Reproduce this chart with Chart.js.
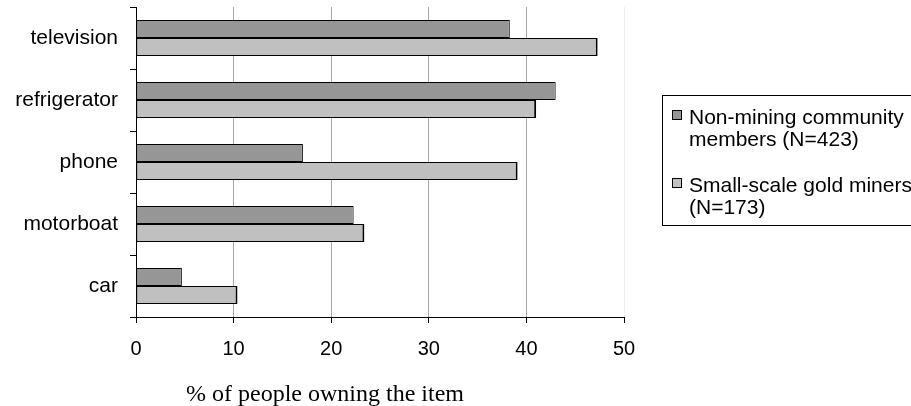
<!DOCTYPE html>
<html>
<head>
<meta charset="utf-8">
<script src="https://cdn.jsdelivr.net/npm/chart.js@4/dist/chart.umd.min.js"></script>
<style>
  html, body { margin: 0; padding: 0; background: #fff; overflow: hidden; }
  #wrap { position: relative; width: 911px; height: 406px; }
  #chart { position: absolute; left: 0; top: 0; }
  .legend {
    position: absolute; left: 662px; top: 95px; width: 260px; height: 131px;
    border: 1px solid #000; border-right: none; box-sizing: border-box;
    font: 21px "Liberation Sans", Arial, sans-serif; color: #000;
  }
  .entry { position: absolute; left: 26px; line-height: 22px; white-space: nowrap; }
  .swatch {
    position: absolute; left: -17px; top: 4px; width: 8px; height: 8px;
    border: 1px solid #000;
  }
  .axis-title {
    position: absolute; left: 0; width: 650px; top: 380px; text-align: center;
    font: 24px "Liberation Serif", "Times New Roman", serif; color: #000;
  }
</style>
</head>
<body>
<div id="wrap">
  <canvas id="chart" width="911" height="406"></canvas>
  <div class="legend" id="legend"></div>
  <div class="axis-title" id="xtitle"></div>
</div>
<script>
// ---------- Data ----------
const items = ['television', 'refrigerator', 'phone', 'motorboat', 'car'];
const nonMining = [38.3, 43.0, 17.1, 22.3, 4.7];
const goldMiners = [47.3, 41.0, 39.1, 23.4, 10.4];
const seriesNames = [['Non-mining community', 'members (N=423)'], ['Small-scale gold miners', '(N=173)']];
const xTicks = [0, 10, 20, 30, 40, 50];
const xTitle = '% of people owning the item';

const darkFill = '#969696';
const lightFill = '#c0c0c0';
const FONT = '"Liberation Sans", Arial, sans-serif';

// ---------- Legend / title (html) ----------
const legendEl = document.getElementById('legend');
[darkFill, lightFill].forEach((fill, i) => {
  const entry = document.createElement('div');
  entry.className = 'entry';
  entry.style.top = (i === 0 ? 10 : 78) + 'px';
  const sw = document.createElement('span');
  sw.className = 'swatch';
  sw.style.background = fill;
  entry.appendChild(sw);
  entry.appendChild(document.createTextNode(seriesNames[i][0]));
  entry.appendChild(document.createElement('br'));
  entry.appendChild(document.createTextNode(seriesNames[i][1]));
  legendEl.appendChild(entry);
});
document.getElementById('xtitle').textContent = xTitle;

// ---------- Chart ----------
new Chart(document.getElementById('chart'), {
  type: 'bar',
  data: {
    labels: items,
    datasets: [
      {
        label: seriesNames[0].join(' '),
        data: nonMining,
        backgroundColor: darkFill,
        borderColor: '#000',
        borderWidth: 1,
        borderSkipped: false,
      },
      {
        label: seriesNames[1].join(' '),
        data: goldMiners,
        backgroundColor: lightFill,
        borderColor: '#000',
        borderWidth: { top: 1, bottom: 1, left: 1, right: 2 },
        borderSkipped: false,
      },
    ],
  },
  options: {
    indexAxis: 'y',
    responsive: false,
    animation: false,
    devicePixelRatio: 1,
    categoryPercentage: 0.58,
    barPercentage: 1,
    layout: { padding: { top: 7, right: 287, bottom: 0, left: 0 } },
    plugins: { legend: { display: false }, tooltip: { enabled: false } },
    scales: {
      x: {
        min: 0,
        max: 50,
        afterBuildTicks: (scale) => { scale.ticks = xTicks.map(v => ({ value: v })); },
        afterFit: (scale) => { scale.height = 89; },
        border: { color: '#000', width: 1 },
        grid: {
          color: (ctx) => {
            const v = ctx.tick && ctx.tick.value;
            if (v === 0) return 'rgba(0,0,0,0)';
            if (v === 50) return '#eeeeee';
            return '#a6a6a6';
          },
          tickColor: '#000',
          tickLength: 6,
          lineWidth: 1,
        },
        ticks: {
          color: '#000',
          font: { family: FONT, size: 20 },
          padding: 14,
          maxRotation: 0,
          autoSkip: false,
        },
      },
      y: {
        afterFit: (scale) => {
          scale.width = 136;
          scale.paddingTop = 0;
          scale.paddingBottom = 0;
        },
        border: { color: '#000', width: 1 },
        grid: {
          drawOnChartArea: false,
          offset: true,
          tickColor: '#000',
          tickLength: 6,
        },
        ticks: {
          color: '#000',
          font: { family: FONT, size: 21 },
          padding: 12,
        },
      },
    },
  },
});
</script>
</body>
</html>
